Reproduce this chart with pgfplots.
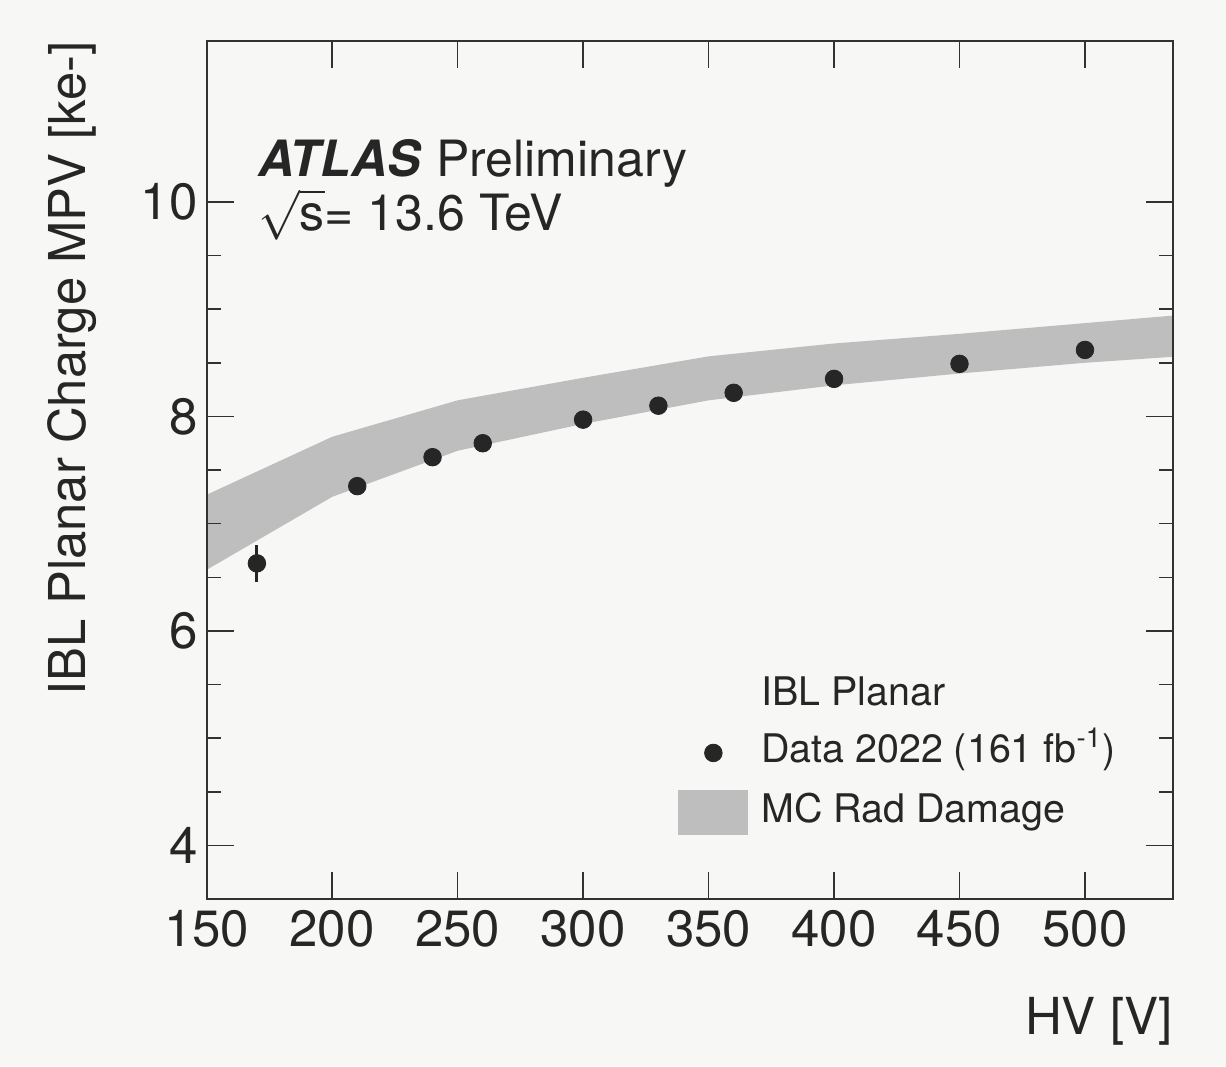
\documentclass[border=0pt]{standalone}
\usepackage{fontspec}
\setmainfont{TeX Gyre Heros}
\usepackage{pgfplots}
\pgfplotsset{compat=1.18}
\definecolor{bg}{RGB}{247,247,245}
\definecolor{band}{RGB}{190,190,190}
\definecolor{ink}{RGB}{38,38,38}
\definecolor{axc}{RGB}{50,50,50}
\begin{document}
\begin{tikzpicture}
\fill[bg] (-103.35pt,-83.5pt) rectangle (509.6pt,449.5pt);
\begin{axis}[
  scale only axis, width=483pt, height=429pt,
  xmin=150, xmax=535, ymin=3.5, ymax=11.5,
  xtick={150,200,...,500}, ytick={4,6,8,10},
  minor y tick num=3, minor x tick num=0,
  tick align=inside,
  major tick length=13.5pt, minor tick length=7pt,
  axis line style={axc, line width=1pt},
  every tick/.style={axc, line width=0.8pt},
  axis on top,
  tick label style={font=\fontsize{25.5}{30}\selectfont, text=ink},
  /pgf/number format/assume math mode=true,
  xticklabel style={inner sep=0pt, yshift=-5.5pt},
  yticklabel style={inner sep=0pt, xshift=-4.3pt},
  xlabel={HV [V]},
  xlabel style={at={(rel axis cs:1,0)}, anchor=base east, yshift=-67.5pt, inner sep=0pt, font=\fontsize{25.5}{30}\selectfont, text=ink},
  ylabel={IBL Planar Charge MPV [ke-]},
  ylabel style={at={([xshift=-60.85pt]rel axis cs:0,1)}, anchor=base east, inner sep=0pt, font=\fontsize{25.4}{30}\selectfont, text=ink},
  legend cell align=left,
  legend style={at={(rel axis cs:0.4879,0.2611)}, anchor=north west, draw=none, fill=none,
    inner sep=0pt, column sep=6.5pt, row sep=8.75pt,
    nodes={inner sep=0pt, text height=15pt, text depth=5pt},
    font=\fontsize{19.7}{23}\selectfont, text=ink},
]
% MC band: upper edge left to right, lower edge right to left
\addplot[fill=band, draw=none, forget plot] coordinates {
 (150,7.27) (200,7.81) (250,8.15) (300,8.36) (350,8.56) (400,8.68) (450,8.77) (500,8.87) (550,8.97)
 (550,8.58) (500,8.50) (450,8.40) (400,8.29) (350,8.15) (300,7.93) (250,7.68) (200,7.25) (150,6.57)} -- cycle;

\addplot[only marks, mark=*, mark size=4.4pt, color=ink, forget plot,
  error bars/.cd, y dir=both, y explicit, error mark=none,
  error bar style={line width=1.5pt, color=ink}]
 table[x=x, y=y, y error=e] {
 x y e
 170 6.63 0.17
 210 7.35 0.03
 240 7.62 0.03
 260 7.75 0.03
 300 7.97 0.03
 330 8.10 0.03
 360 8.22 0.03
 400 8.35 0.03
 450 8.49 0.03
 500 8.62 0.03
 };

\addlegendimage{empty legend}
\addlegendentry{IBL Planar}
\addlegendimage{legend image code/.code={\fill[ink] (17.25pt,0pt) circle (4.4pt);}}
\addlegendentry{Data 2022 (161 fb\textsuperscript{-1})}
\addlegendimage{legend image code/.code={\fill[band] (0pt,-11pt) rectangle (34.5pt,11pt);}}
\addlegendentry{MC Rad Damage}

\node[anchor=base west, inner sep=0pt, text=ink, font=\fontsize{25}{30}\selectfont] at (axis cs:170.4,10.235) {\textbf{\textit{ATLAS}}\hspace{0.3em}Preliminary};
\node[anchor=base west, inner sep=0pt, text=ink, font=\fontsize{25}{30}\selectfont] at (axis cs:170.4,9.738) {$\smash{\sqrt{\mbox{s}}}$= 13.6 TeV};
\end{axis}
\end{tikzpicture}
\end{document}
